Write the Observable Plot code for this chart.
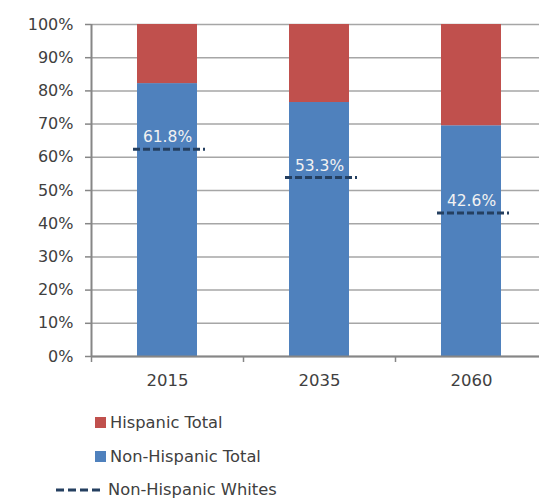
<!DOCTYPE html>
<html><head><meta charset="utf-8">
<script src="https://cdn.jsdelivr.net/npm/d3@7"></script>
<script src="https://cdn.jsdelivr.net/npm/@observablehq/plot@0.6"></script>
<style>
body{margin:0;background:#fff;font-family:"DejaVu Sans",sans-serif;}
#wrap{position:relative;width:539px;height:498px;overflow:hidden;}
#chart{position:absolute;left:0;top:0;width:547px;}
.leg{position:absolute;font-size:16.3px;color:#404040;display:flex;align-items:center;white-space:nowrap;}
.sw{width:11px;height:11px;margin-right:4px;}
</style></head><body>
<div id="wrap"><div id="chart"></div>
<div class="leg" style="left:95px;top:413px;"><div class="sw" style="background:#C0504D"></div>Hispanic Total</div>
<div class="leg" style="left:95px;top:447px;"><div class="sw" style="background:#4F81BD"></div>Non-Hispanic Total</div>
<div class="leg" style="left:56px;top:480px;"><svg width="52" height="18"><line x1="0" x2="44" y1="9" y2="9" stroke="#243F60" stroke-width="3" stroke-dasharray="8,4"/></svg>Non-Hispanic Whites</div>
</div>
<script>
const years = ["2015", "2035", "2060"];
const nonHispanicTotal = [0.822, 0.765, 0.695];
const hispanicTotal = [0.178, 0.235, 0.305];
const nonHispanicWhites = [0.618, 0.533, 0.426];
const whiteLabels = ["61.8%", "53.3%", "42.6%"];
const yTicks = [0, 0.1, 0.2, 0.3, 0.4, 0.5, 0.6, 0.7, 0.8, 0.9, 1];
const seriesNames = ["Non-Hispanic Total", "Hispanic Total"];
const seriesColors = ["#4F81BD", "#C0504D"];

const stacked = [];
years.forEach((y, i) => {
  stacked.push({year: y, series: seriesNames[0], value: nonHispanicTotal[i]});
  stacked.push({year: y, series: seriesNames[1], value: hispanicTotal[i]});
});
const whites = years.map((y, i) => ({year: y, value: nonHispanicWhites[i], label: whiteLabels[i]}));

const chart = Plot.plot({
  width: 547,
  height: 390,
  marginLeft: 91,
  marginRight: 0,
  marginTop: 24,
  marginBottom: 34,
  style: {fontFamily: "DejaVu Sans, sans-serif", fontSize: "16px", color: "#404040", background: "#fff", maxWidth: "none", width: "547px", height: "390px"},
  x: {domain: years, padding: 0, label: null},
  y: {domain: [0, 1], label: null},
  color: {domain: seriesNames, range: seriesColors},
  marks: [
    Plot.gridY(yTicks, {stroke: "#a6a6a6", strokeOpacity: 1, strokeWidth: 1.5}),
    Plot.barY(stacked, {x: "year", y: "value", fill: "series", order: seriesNames, insetLeft: 46, insetRight: 46}),
    Plot.tickY(whites, {x: "year", y: "value", dy: -2, insetLeft: 42, insetRight: 38, stroke: "#243F60", strokeWidth: 3, strokeDasharray: "7,3"}),
    Plot.text(whites, {x: "year", y: "value", text: "label", dy: -14, fill: "#f2f2f2", fontSize: 15.5}),
    Plot.ruleY([0], {stroke: "#868686", strokeWidth: 2}),
    Plot.ruleX([years[0]], {x: d => d, y1: 0, y2: 1, dx: -76, stroke: "#868686", strokeWidth: 2}),
    Plot.ruleX(years, {x: d => d, y1: 0, y2: 0, insetBottom: -6, dx: -76, stroke: "#868686", strokeWidth: 1.5}),
    Plot.axisY(yTicks, {tickFormat: d3.format(".0%"), tickSize: 6, tickPadding: 12, stroke: "#868686", strokeWidth: 1.5, fill: "#404040", fontSize: 16}),
    Plot.axisX({tickSize: 0, tickPadding: 18, fill: "#404040", fontSize: 16.5})
  ]
});
document.getElementById("chart").appendChild(chart);
</script>
</body></html>
